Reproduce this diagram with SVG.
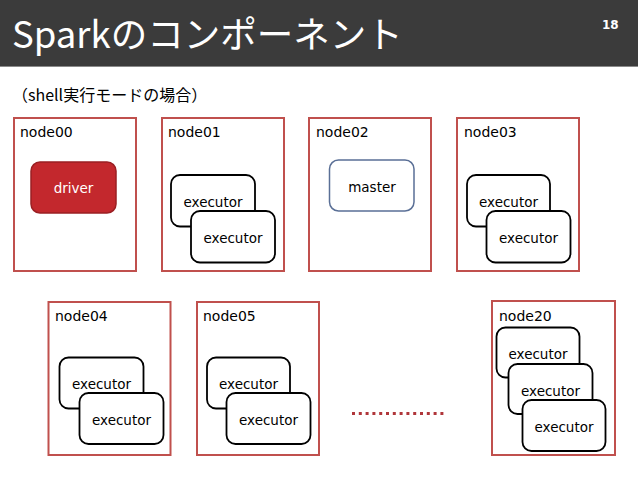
<svg xmlns="http://www.w3.org/2000/svg" width="638" height="479" viewBox="0 0 638 479">
<style>
.node{fill:#fff;stroke:#c0504d;stroke-width:2}
.lbl{font-family:"DejaVu Sans",sans-serif;font-size:14px;fill:#000}
.ex{fill:#fff;stroke:#000;stroke-width:1.8}
.t{font-family:"DejaVu Sans",sans-serif;font-size:13.5px;fill:#000;text-anchor:middle}
</style>
<rect x="0" y="0" width="638" height="479" fill="#fff"/>
<g id="header">
<rect x="0" y="0" width="638" height="66" fill="#3b3b3b"/>
<line x1="0" y1="66.5" x2="638" y2="66.5" stroke="#8a8a8a" stroke-width="1"/>
<text x="12" y="48" font-family="'Noto Sans CJK JP',sans-serif" font-size="36.5" fill="#fff">Sparkのコンポーネント</text>
<text x="602" y="29" font-family="'DejaVu Sans',sans-serif" font-size="12" font-weight="bold" fill="#fff">18</text>
</g>
<text x="12" y="101" font-family="'Noto Sans CJK JP',sans-serif" font-size="16" fill="#000">（shell実行モードの場合）</text>
<g id="node00">
<rect class="node" x="14" y="118" width="122" height="153"/>
<text class="lbl" x="20" y="137">node00</text>
<rect x="31" y="162" width="85" height="51" rx="9" fill="#c3282d" stroke="#9b1f23" stroke-width="1.5"/>
<text class="t" x="73.5" y="193" style="fill:#fff">driver</text>
</g>
<g id="node01">
<rect class="node" x="162" y="118" width="122" height="153"/>
<text class="lbl" x="168" y="137">node01</text>
<rect class="ex" x="171" y="175" width="84" height="51.5" rx="9"/>
<text class="t" x="213" y="207">executor</text>
<rect class="ex" x="191" y="211" width="84" height="51.5" rx="9"/>
<text class="t" x="233" y="243">executor</text>
</g>
<g id="node02">
<rect class="node" x="309" y="118" width="122" height="153"/>
<text class="lbl" x="316" y="137">node02</text>
<rect x="329.5" y="160" width="84.5" height="51" rx="9" fill="#fff" stroke="#5a6f96" stroke-width="1.5"/>
<text class="t" x="372" y="192">master</text>
</g>
<g id="node03">
<rect class="node" x="457" y="118" width="122" height="153"/>
<text class="lbl" x="464" y="137">node03</text>
<rect class="ex" x="467" y="175" width="83" height="51.5" rx="9"/>
<text class="t" x="508.5" y="207">executor</text>
<rect class="ex" x="486.5" y="211" width="84" height="51.5" rx="9"/>
<text class="t" x="528.5" y="243">executor</text>
</g>
<g id="node04">
<rect class="node" x="48.5" y="302" width="122" height="153"/>
<text class="lbl" x="55" y="321">node04</text>
<rect class="ex" x="59.5" y="357.5" width="84" height="51" rx="9"/>
<text class="t" x="101.5" y="389">executor</text>
<rect class="ex" x="79.5" y="393" width="84" height="51" rx="9"/>
<text class="t" x="121.5" y="425">executor</text>
</g>
<g id="node05">
<rect class="node" x="197" y="302" width="122" height="153"/>
<text class="lbl" x="203" y="321">node05</text>
<rect class="ex" x="207" y="357.5" width="83" height="51" rx="9"/>
<text class="t" x="248.5" y="389">executor</text>
<rect class="ex" x="226.5" y="393" width="84" height="51" rx="9"/>
<text class="t" x="268.5" y="425">executor</text>
</g>
<g id="node20">
<rect class="node" x="492" y="301" width="123" height="154"/>
<text class="lbl" x="499" y="321">node20</text>
<rect class="ex" x="496.5" y="327.5" width="83" height="50" rx="9"/>
<text class="t" x="538" y="359">executor</text>
<rect class="ex" x="508.5" y="364" width="84" height="50" rx="9"/>
<text class="t" x="550.5" y="395.5">executor</text>
<rect class="ex" x="522.5" y="400" width="83" height="51" rx="9"/>
<text class="t" x="564" y="432">executor</text>
</g>
<g id="connectors">
<line x1="352" y1="413.5" x2="447" y2="413.5" stroke="#b0363a" stroke-width="3" stroke-dasharray="3 3.8"/>
</g>
</svg>
